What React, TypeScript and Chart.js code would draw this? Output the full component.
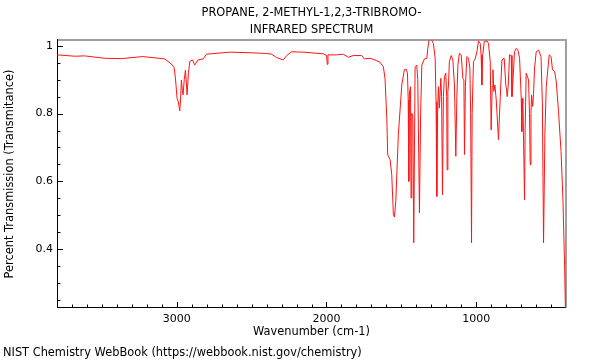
import React, { useEffect, useRef } from 'react';
import { Chart, registerables } from 'chart.js';

Chart.register(...registerables);

const titleLines = ['PROPANE, 2-METHYL-1,2,3-TRIBROMO-', 'INFRARED SPECTRUM'];
const xAxisTitle = 'Wavenumber (cm-1)';
const yAxisTitle = 'Percent Transmission (Transmitance)';
const footerText = 'NIST Chemistry WebBook (https://webbook.nist.gov/chemistry)';

const xTickValues = [3000, 2000, 1000];
const yTickValues = [0.4, 0.6, 0.8, 1];

const wavenumbers = [
  3800, 3682, 3615, 3482, 3368, 3227, 3080, 3036, 3018, 3009, 2998, 2990, 2980, 2975, 2969, 2963, 2958, 2950,
  2942, 2936, 2931, 2922, 2913, 2895, 2880, 2858, 2824, 2801, 2645, 2500, 2400, 2367, 2333, 2289, 2266, 2233,
  2155, 2021, 1999, 1995, 1990, 1932, 1888, 1854, 1821, 1765, 1747, 1709, 1676, 1642, 1620, 1609, 1597, 1591,
  1575, 1564, 1553, 1546, 1537, 1520, 1497, 1480, 1468, 1459, 1454, 1450, 1446, 1439, 1435, 1430, 1423, 1417,
  1412, 1408, 1397, 1390, 1379, 1371, 1363, 1346, 1330, 1323, 1314, 1301, 1286, 1274, 1268, 1263, 1258, 1252,
  1246, 1236, 1231, 1225, 1219, 1212, 1203, 1197, 1194, 1189, 1185, 1179, 1167, 1156, 1145, 1136, 1129, 1122,
  1112, 1100, 1089, 1082, 1078, 1072, 1062, 1051, 1042, 1037, 1031, 1027, 1018, 1007, 995, 985, 973, 967, 962,
  957, 946, 928, 918, 906, 900, 893, 888, 882, 875, 866, 851, 839, 828, 813, 802, 797, 793, 786, 777, 766, 761,
  754, 744, 733, 721, 710, 699, 695, 691, 688, 684, 677, 673, 666, 650, 644, 639, 634, 630, 623, 617, 610, 599,
  583, 567, 558, 550, 541, 532, 512, 500, 490, 476, 465, 450, 433, 420, 409, 403,
];

const transmittance = [
  0.973, 0.969, 0.97, 0.963, 0.962, 0.968, 0.961, 0.946, 0.936, 0.905, 0.845, 0.835, 0.808, 0.84, 0.899, 0.87, 0.855, 0.9,
  0.928, 0.89, 0.855, 0.92, 0.953, 0.958, 0.943, 0.958, 0.961, 0.975, 0.981, 0.979, 0.977, 0.975, 0.965, 0.958, 0.971, 0.982,
  0.981, 0.976, 0.971, 0.945, 0.973, 0.973, 0.975, 0.966, 0.971, 0.971, 0.961, 0.963, 0.958, 0.951, 0.938, 0.904, 0.786, 0.679,
  0.664, 0.62, 0.502, 0.495, 0.541, 0.737, 0.884, 0.929, 0.931, 0.919, 0.84, 0.6, 0.86, 0.879, 0.551, 0.801, 0.79, 0.419,
  0.7, 0.938, 0.943, 0.9, 0.507, 0.8, 0.943, 0.961, 0.963, 0.992, 1.02, 1.02, 1.007, 0.963, 0.835, 0.556, 0.8, 0.879,
  0.816, 0.904, 0.85, 0.561, 0.85, 0.909, 0.919, 0.85, 0.634, 0.865, 0.884, 0.953, 0.971, 0.958, 0.884, 0.674, 0.85, 0.943,
  0.978, 0.973, 0.904, 0.899, 0.679, 0.88, 0.968, 0.963, 0.934, 0.8, 0.419, 0.8, 0.953, 0.961, 0.982, 1.014, 1.007, 0.973, 0.884,
  0.97, 1.012, 1.014, 1.007, 0.953, 0.752, 0.88, 0.929, 0.865, 0.884, 0.84, 0.723, 0.85, 0.958, 0.963, 0.884, 0.87, 0.85, 0.88, 0.973, 0.971, 0.85,
  0.9, 0.982, 0.992, 0.987, 0.963, 0.845, 0.747, 0.83, 0.845, 0.737, 0.546, 0.75, 0.919, 0.899, 0.8, 0.649, 0.8, 0.855, 0.821, 0.855, 0.934, 0.982,
  0.987, 0.968, 0.835, 0.419, 0.737, 0.88, 0.973, 0.968, 0.929, 0.924, 0.894, 0.806, 0.688, 0.541, 0.345, 0.2,
];

const FONT = "'DejaVu Sans', sans-serif";

const frameTicksPlugin = {
  id: 'frameTicks',
  beforeDatasetsDraw(chart: any) {
    const { ctx, chartArea, scales } = chart;
    const { left, right, top, bottom } = chartArea;
    const x = scales.x;
    const y = scales.y;
    ctx.save();
    ctx.strokeStyle = '#000';
    ctx.lineWidth = 1;
    ctx.beginPath();
    for (let k = 5; k <= 38; k++) {
      const v = k * 100;
      const px = Math.round(x.getPixelForValue(v)) + 0.5;
      const len = k % 10 === 0 ? 6 : 3.5;
      ctx.moveTo(px, bottom);
      ctx.lineTo(px, bottom - len);
    }
    for (let k = 5; k <= 20; k++) {
      const v = k * 0.05;
      const py = Math.round(y.getPixelForValue(v)) + 0.5;
      const len = k % 4 === 0 ? 6 : 3.5;
      ctx.moveTo(left, py);
      ctx.lineTo(left + len, py);
    }
    ctx.stroke();
    // gray top and right
    ctx.strokeStyle = '#a0a0a0';
    ctx.lineWidth = 2;
    ctx.beginPath();
    ctx.moveTo(left, top);
    ctx.lineTo(right, top);
    ctx.lineTo(right, bottom);
    ctx.stroke();
    // black left and bottom
    ctx.strokeStyle = '#000';
    ctx.lineWidth = 1;
    ctx.beginPath();
    ctx.moveTo(left + 0.5, top - 1);
    ctx.lineTo(left + 0.5, bottom - 0.5);
    ctx.lineTo(right, bottom - 0.5);
    ctx.stroke();
    ctx.restore();
  },
};

export default function App() {
  const ref = useRef<HTMLCanvasElement>(null);
  useEffect(() => {
    const chart = new Chart(ref.current as HTMLCanvasElement, {
      type: 'line',
      data: {
        datasets: [
          {
            data: wavenumbers.map((w, i) => ({ x: w, y: transmittance[i] })),
            borderColor: 'rgb(255,20,20)',
            borderWidth: 1,
            pointRadius: 0,
            tension: 0,
            fill: false,
          },
        ],
      },
      options: {
        responsive: false,
        animation: false,
        devicePixelRatio: 1,
        layout: { padding: { left: 3, right: 34, top: 0, bottom: 0 } },
        plugins: {
          legend: { display: false },
          tooltip: { enabled: false },
          title: {
            display: true,
            text: titleLines,
            fullSize: false,
            color: '#000',
            font: { family: FONT, size: 11.4, weight: 'normal', lineHeight: '17px' },
            padding: { top: 4.5, bottom: 1.5 },
          },
          subtitle: {
            display: true,
            text: footerText,
            position: 'bottom',
            align: 'start',
            color: '#000',
            font: { family: FONT, size: 11.4, weight: 'normal', lineHeight: '14px' },
            padding: 0,
          },
        },
        scales: {
          x: {
            type: 'linear',
            reverse: true,
            min: 400,
            max: 3800,
            grid: { display: false, drawTicks: false },
            border: { display: false },
            ticks: {
              color: '#000',
              font: { family: FONT, size: 11 },
              padding: 4.4,
              maxRotation: 0,
              autoSkip: false,
              callback: (v: any) => String(v),
            },
            afterBuildTicks: (s: any) => {
              s.ticks = xTickValues.map((v) => ({ value: v }));
            },
            afterFit: (s: any) => {
              s.height = 38;
            },
            title: {
              display: true,
              text: xAxisTitle,
              color: '#000',
              font: { family: FONT, size: 11.4 },
              padding: { top: 0, bottom: 7.2 },
            },
          },
          y: {
            type: 'linear',
            min: 0.2268,
            max: 1.0168,
            grid: { display: false, drawTicks: false },
            border: { display: false },
            ticks: {
              color: '#000',
              font: { family: FONT, size: 11 },
              padding: 4,
              callback: (v: any) => String(Number(v)),
            },
            afterBuildTicks: (s: any) => {
              s.ticks = yTickValues.map((v) => ({ value: v }));
            },
            afterFit: (s: any) => {
              s.width = 54;
            },
            title: {
              display: true,
              text: yAxisTitle,
              color: '#000',
              font: { family: FONT, size: 11.4 },
              padding: { top: 0, bottom: 0 },
            },
          },
        },
      },
      plugins: [frameTicksPlugin],
    } as any);
    return () => chart.destroy();
  }, []);
  return (
    <div style={{ position: 'fixed', left: 0, top: 0, width: 600, height: 360, background: '#fff' }}>
      <canvas ref={ref} width={600} height={360} style={{ display: 'block' }} />
    </div>
  );
}
